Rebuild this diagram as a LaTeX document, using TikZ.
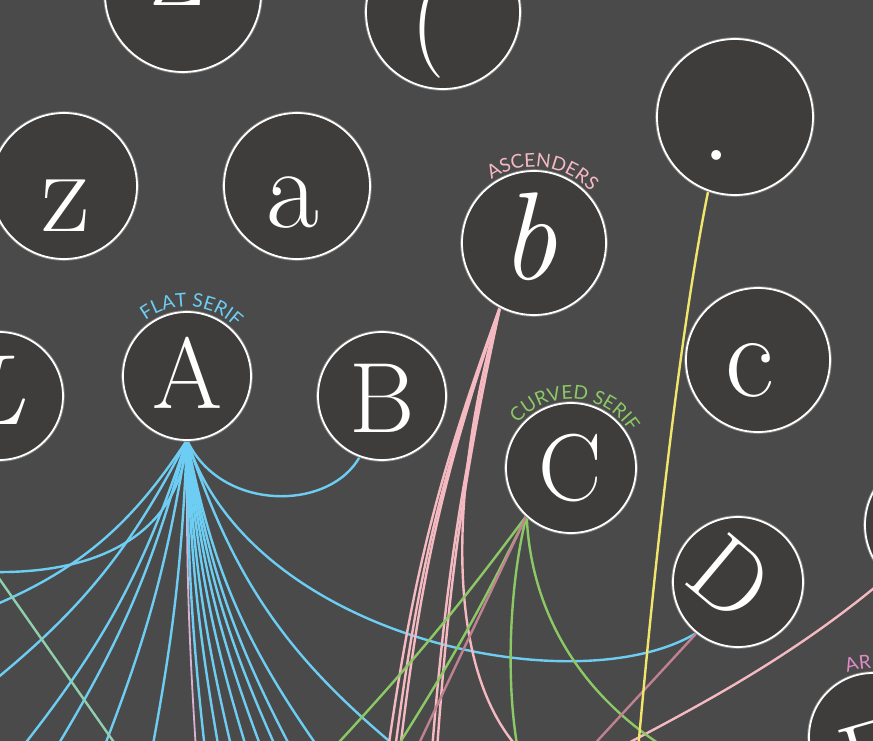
\documentclass[tikz,border=0pt]{standalone}
\usepackage{fontspec}
\setsansfont{Lato}
\usetikzlibrary{decorations.text}
\definecolor{bgc}{HTML}{4A4A4A}
\definecolor{circfill}{HTML}{3E3D3B}
\definecolor{halo}{HTML}{7E7E7E}
\definecolor{eblue}{HTML}{6DCDF2}
\definecolor{epink}{HTML}{F5B9C2}
\definecolor{egreen}{HTML}{8CC966}
\definecolor{eyellow}{HTML}{F2E56C}
\definecolor{emauve}{HTML}{C08290}
\definecolor{emint}{HTML}{8FCFAE}
\definecolor{elav}{HTML}{D6B3D3}
\definecolor{armsc}{HTML}{E08BC8}
\newcommand\lblfont{\sffamily\fontsize{19}{19}\selectfont}
\newcommand\glyphsize[1]{\fontsize{#1}{#1}\selectfont\addfontfeatures{FakeBold=0.7}}
\newcommand\arclabel[5]{%
  \path[font=\lblfont, decorate, decoration={text along path, text align=center, text color=#4, text={|\lblfont|#5}}]
    ([shift={(#3+75:#2)}]#1.center) arc[start angle=#3+75, end angle=#3-75, radius=#2];}
\pgfdeclarelayer{bglayer}
\pgfdeclarelayer{edgelayer}
\pgfsetlayers{bglayer,edgelayer,main}
\begin{document}
\begin{tikzpicture}[x=1pt,y=1pt,
  bubble/.style={circle, draw=white, line width=1.8pt, fill=circfill, inner sep=0pt, outer sep=0pt,
    minimum size=#1, preaction={draw=halo, line width=3.6pt}},
  ltr/.style={text=white, inner sep=0pt, font=\glyphsize{#1}},
  lnk/.style={line width=2.4pt, line cap=round},
]
\begin{pgfonlayer}{bglayer}
\fill[bgc] (0,0) rectangle (873,-741);
\end{pgfonlayer}
\useasboundingbox (0,0) rectangle (873,-741);

% circles
\node[bubble=156pt] (cZup) at (183,6) {};
\node[bubble=154pt] (cParen) at (443,-12) {};
\node[bubble=146pt] (czl) at (64,-186) {};
\node[bubble=146pt] (cal) at (297,-186) {};
\node[bubble=156pt] (cdot) at (735,-117) {};
\node[bubble=144pt] (cbl) at (534,-243) {};
\node[bubble=128pt] (cLl) at (-1,-396) {};
\node[bubble=128pt] (cAu) at (187,-376) {};
\node[bubble=128pt] (cBu) at (382,-396) {};
\node[bubble=144pt] (ccl) at (758,-360) {};
\node[bubble=130pt] (cCu) at (571,-468) {};
\node[bubble=140pt] (cR) at (935,-525) {};
\node[bubble=130pt] (cDu) at (738,-582) {};
\node[bubble=128pt] (cEu) at (873,-737) {};

% letters
\node[ltr=100] (tZ) at (178,29) {Z};
\node[ltr=110, rotate=-4] (tParen) at (430,-22) {(};
\node[ltr=120] (tz) at (66,-206) {z};
\node[ltr=115] (ta) at (293,-203) {a};
\node[ltr=120, rotate=45] (tdot) at (717,-155) {.};
\node[ltr=125] (tb) at (529,-237) {\itshape\addfontfeatures{FakeBold=0.7}b};
\node[ltr=100] (tL) at (-5,-390) {\itshape\addfontfeatures{FakeBold=0.7}L};
\node[ltr=101] (tA) at (187,-373) {A};
\node[ltr=100] (tB) at (382,-398) {B};
\node[ltr=120] (tc) at (750,-370) {c};
\node[ltr=95] (tC) at (570,-468) {C};
\node[ltr=100, rotate=-40] (tD) at (731,-578) {D};
\node[ltr=100, rotate=16] (tE) at (873,-756) {E};

% labels
\arclabel{cAu}{69}{86}{eblue}{FLAT SERIF}
\arclabel{cbl}{76}{83}{epink}{ASCENDERS}
\arclabel{cCu}{69}{86}{egreen}{CURVED SERIF}
\arclabel{cEu}{69}{90}{armsc}{ARMS}

\begin{pgfonlayer}{edgelayer}
% lavender
\coordinate (lv1) at (196,-750);
\draw[lnk,elav,line width=1.8pt] (cAu.south) to[bend right=2] (lv1);
% blue from A
\draw[lnk,eblue] (cAu.south) .. controls (220,-512) and (330,-512) .. (cBu.-110);
\draw[lnk,eblue] (cAu.south) .. controls (250,-640) and (580,-705) .. (cDu.-129);
\coordinate (blx) at (-60,-568);
\draw[lnk,eblue] (cAu.south) .. controls (178,-550) and (70,-585) .. (blx);
\foreach \n/\x/\y/\b in {1/-30/-615/18, 2/-20/-692/12, 3/20/-750/10, 4/55/-750/8, 5/103/-750/6, 6/152/-750/4} {
  \coordinate (bl\n) at (\x,\y);
  \draw[lnk,eblue] (cAu.south) to[bend left=\b] (bl\n);
}
\foreach \n/\x/\y/\b in {1/205/-750/3, 2/219/-750/4, 3/232/-750/5, 4/247/-750/6, 5/262/-750/7, 6/277/-750/8, 7/292/-750/9, 8/320/-750/12, 9/400/-750/16} {
  \coordinate (br\n) at (\x,\y);
  \draw[lnk,eblue] (cAu.south) to[bend right=\b] (br\n);
}
% mint
\coordinate (mt1) at (-30,-537);
\coordinate (mt2) at (125,-758);
\draw[lnk,emint] (mt1) -- (mt2);
% pink from b
\foreach \n/\x/\b in {1/388/6, 2/395/6, 3/400/6, 4/432/4, 5/437/4} {
  \coordinate (pk\n) at (\x,-750);
  \draw[lnk,epink] (cbl.-118) to[bend right=\b] (pk\n);
}
\coordinate (pk6) at (530,-760);
\draw[lnk,epink] (cbl.-118) .. controls (450,-480) and (440,-680) .. (pk6);
% light pink from the right
\coordinate (pr1) at (920,-548);
\coordinate (pr2) at (600,-758);
\draw[lnk,epink] (pr1) .. controls (810,-650) and (700,-705) .. (pr2);
% green from C
\coordinate (gr1) at (330,-752);
\coordinate (gr2) at (394,-752);
\coordinate (gr3) at (518,-750);
\coordinate (gr4) at (672,-752);
\draw[lnk,egreen] (cCu.-133) to[bend left=3] (gr1);
\draw[lnk,egreen] (cCu.-133) to[bend left=3] (gr2);
\draw[lnk,egreen] (cCu.-133) .. controls (510,-580) and (505,-680) .. (gr3);
\draw[lnk,egreen] (cCu.-133) .. controls (530,-600) and (570,-690) .. (gr4);
% mauve
\coordinate (mv1) at (416,-750);
\coordinate (mv2) at (589,-750);
\draw[lnk,emauve] (cCu.-133) -- (mv1);
\draw[lnk,emauve] (cDu.-129) -- (mv2);
% yellow
\coordinate (yl1) at (638,-750);
\draw[lnk,eyellow] (cdot.-110) .. controls (680,-330) and (655,-560) .. (yl1);
\end{pgfonlayer}
\end{tikzpicture}
\end{document}
